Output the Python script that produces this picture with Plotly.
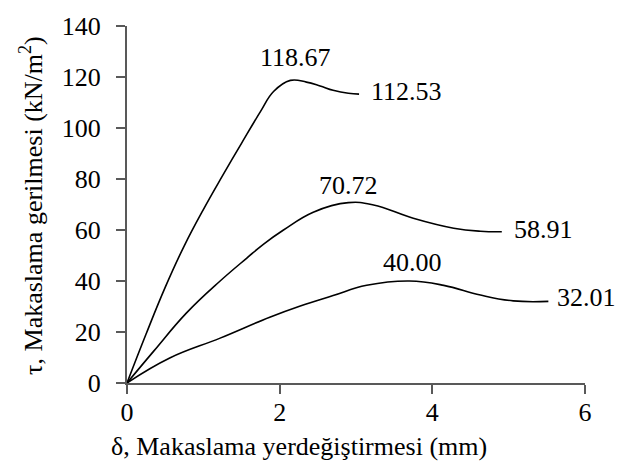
import plotly.graph_objects as go

# Data
x_top = [0, 0.25, 0.50, 0.75, 1.00, 1.25, 1.50, 1.75, 1.92, 2.14, 2.35, 2.53, 2.70, 2.90, 3.04]
y_top = [0, 19.2, 37.5, 53.8, 68.0, 81.2, 94.0, 106.5, 114.3, 118.67, 118.0, 116.5, 114.8, 113.6, 113.3]

x_mid = [0, 0.35, 0.78, 1.22, 1.57, 1.79, 2.05, 2.44, 2.90, 3.23, 3.75, 4.28, 4.63, 4.91]
y_mid = [0, 12.5, 27.5, 40.0, 49.0, 54.5, 60.0, 67.0, 70.72, 69.8, 64.6, 60.7, 59.5, 59.3]

x_bot = [0, 0.56, 1.22, 1.87, 2.27, 2.70, 3.14, 3.70, 4.15, 4.63, 5.06, 5.52]
y_bot = [0, 9.8, 17.6, 25.8, 30.2, 34.3, 38.3, 40.0, 38.3, 34.5, 32.2, 32.01]

peak_labels = ["118.67", "70.72", "40.00"]
end_labels = ["112.53", "58.91", "32.01"]

x_ticks = [0, 2, 4, 6]
y_ticks = [0, 20, 40, 60, 80, 100, 120, 140]

x_title = "δ, Makaslama yerdeğiştirmesi (mm)"
y_title = "τ, Makaslama gerilmesi (kN/m<sup>2</sup>)"

FONT = "Liberation Serif, Times New Roman, serif"
TXT = dict(family=FONT, size=26, color="black")

fig = go.Figure()
series = [(x_top, y_top), (x_mid, y_mid), (x_bot, y_bot)]
for xs, ys in series:
    fig.add_trace(go.Scatter(x=xs, y=ys, mode="lines",
                             line=dict(color="black", width=1.6, shape="spline", smoothing=1.2),
                             showlegend=False, hoverinfo="skip"))

peak_shift = [(5, 23), (0, 17), (3, 19)]
end_shift = [(10, 3), (10, 2), (7, 4)]
for (xs, ys), pl, el, ps, es in zip(series, peak_labels, end_labels, peak_shift, end_shift):
    i = ys.index(max(ys))
    fig.add_annotation(x=xs[i], y=ys[i], text=pl, showarrow=False,
                       xanchor="center", yanchor="middle", xshift=ps[0], yshift=ps[1],
                       font=TXT)
    fig.add_annotation(x=xs[-1], y=ys[-1], text=el, showarrow=False,
                       xanchor="left", yanchor="middle", xshift=es[0], yshift=es[1],
                       font=TXT)

# Axis titles as annotations (placed like the reference)
fig.add_annotation(xref="paper", yref="paper", x=0.3755, y=-0.177, text=x_title,
                   showarrow=False, xanchor="center", yanchor="middle", font=TXT)
fig.add_annotation(xref="paper", yref="paper", x=-0.207, y=0.4966, text=y_title,
                   textangle=-90, showarrow=False, xanchor="center", yanchor="middle", font=TXT)

axis_common = dict(showline=True, linecolor="#595959", linewidth=2,
                   ticks="outside", ticklen=9, tickwidth=2, tickcolor="#595959",
                   showgrid=False, zeroline=False, tickfont=TXT)

fig.update_xaxes(range=[0, 6], tickvals=x_ticks, ticklabelstandoff=-4, **axis_common)
fig.update_yaxes(range=[0, 140], tickvals=y_ticks, ticklabelstandoff=10, **axis_common)

fig.update_layout(width=624, height=469,
                  margin=dict(l=127, r=39, t=19, b=86),
                  paper_bgcolor="white", plot_bgcolor="white")

fig.write_html("out.html")
